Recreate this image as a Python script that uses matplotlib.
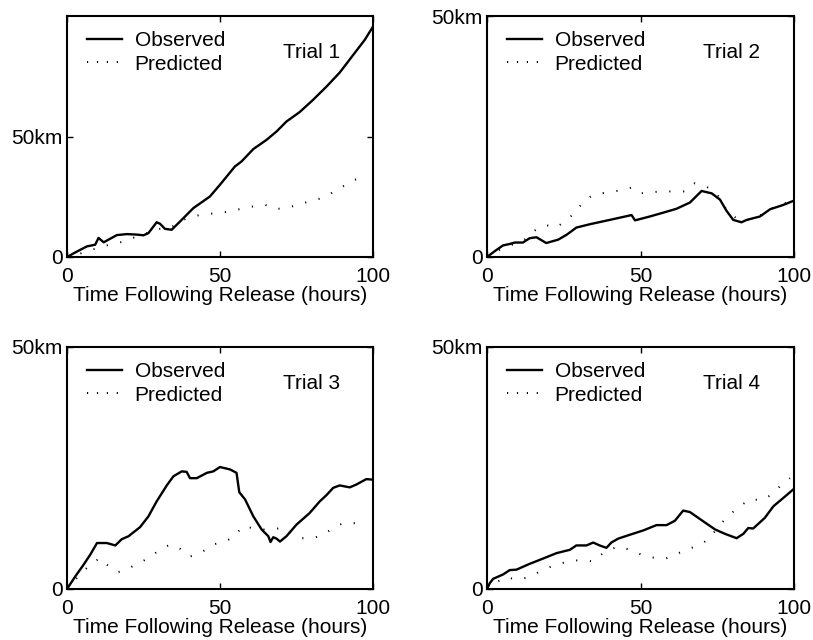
import matplotlib
matplotlib.use("Agg")
import matplotlib.pyplot as plt

plt.rcParams['font.family'] = ['Liberation Sans', 'DejaVu Sans']

# ---------------- data (hours, km) ----------------
t1_obs_t = [0, 3.3, 6.5, 9.2, 10.3, 12, 14, 16.3, 19.6, 22.8, 25, 26.6, 29.3, 30.4, 32, 34.2, 37,
            41.3, 46.7, 50, 54.9, 57, 60.9, 65.2, 68.5, 71.7, 76, 80.4, 84.8, 89.1, 93.5, 97.3, 100]
t1_obs_km = [0, 2.3, 4.4, 5.1, 7.9, 6.1, 7.5, 9.1, 9.5, 9.3, 9.0, 9.9, 14.4, 13.8, 11.7, 11.3, 14.8,
             20.3, 25.1, 30, 37.6, 39.6, 44.8, 48.6, 52.1, 56.2, 60.1, 65.2, 70.7, 76.5, 83.8, 90.1, 95.6]
t1_pred_t = [0, 3.3, 7.6, 10.9, 14.7, 19, 22.3, 26.1, 29.3, 33.7, 37.5, 41.3, 45.1, 49.5, 53.3,
             56.5, 60.9, 64.7, 67.9, 71.7, 75.5, 79.3, 83.2, 86.4, 89.7, 93, 97.3]
t1_pred_km = [0, 1.0, 2.8, 4.1, 5.4, 6.5, 8.3, 9.9, 11.6, 12.0, 15.2, 16.9, 17.8, 18.2, 18.9,
              19.9, 21.0, 21.7, 19.9, 20.3, 21.7, 23.1, 24.4, 26.5, 28.9, 31.6, 33.4]

t2_obs_t = [0, 2.5, 5.2, 7.4, 9, 11.7, 13.9, 16.1, 19.3, 23.2, 25.9, 29.1, 33.5, 40, 47.1, 48.2,
            53, 57.4, 61.7, 66.1, 69.9, 73.2, 75.9, 78.0, 80.2, 82.9, 84.6, 88.9, 92.2, 96.5, 100]
t2_obs_km = [0, 1.2, 2.4, 2.7, 3.0, 3.0, 3.9, 4.1, 2.9, 3.6, 4.6, 6.1, 6.8, 7.7, 8.7, 7.6,
             8.4, 9.2, 10.0, 11.3, 13.7, 13.2, 11.9, 9.6, 7.7, 7.2, 7.7, 8.4, 9.9, 10.8, 11.7]
t2_pred_t = [0, 4.1, 7.4, 10.7, 13.4, 16.1, 19.3, 22.6, 25.9, 29.1, 31.3, 34.6, 38.9, 43.3, 47.1,
             49.8, 53, 56.8, 60.7, 64.5, 67.7, 71.5, 74.8, 78, 81.8, 85.7, 88.9, 92.7, 96.5, 100]
t2_pred_km = [0, 1.5, 2.4, 3.0, 4.1, 5.8, 6.6, 6.1, 7.7, 9.4, 11.5, 12.9, 13.4, 13.8, 14.4,
              13.2, 13.4, 13.6, 13.6, 13.6, 15.3, 14.6, 13.2, 9.8, 7.7, 7.7, 8.6, 10.1, 11.0, 11.9]

t3_obs_t = [0, 2.7, 5.4, 7.6, 9.8, 13, 15.8, 17.9, 20.1, 23.9, 26.6, 29.3, 32.6, 34.8, 37.5, 39.1,
            40.2, 42.4, 45.7, 47.8, 50, 53.3, 55.4, 56.3, 58.2, 60.9, 63.6, 65.8, 66.5, 67.4, 68.5,
            69.6, 71.7, 75, 79.3, 82.6, 84.8, 87, 89.1, 92.4, 94.6, 97.8, 100]
t3_obs_km = [0, 2.6, 5.0, 7.1, 9.5, 9.5, 9.0, 10.3, 10.9, 12.8, 15.0, 18.1, 21.4, 23.3, 24.3, 24.2,
             22.9, 22.9, 24.0, 24.3, 25.2, 24.7, 24.0, 20.0, 18.5, 15.0, 12.3, 10.9, 9.7, 10.7, 10.4,
             9.8, 10.9, 13.3, 15.7, 18.1, 19.4, 20.9, 21.4, 21.0, 21.6, 22.7, 22.6]
t3_pred_t = [0, 2.7, 5.4, 8.2, 10.9, 13.6, 16.8, 20.1, 23.9, 27.2, 30.4, 33.7, 37, 40.2, 44, 47.8,
             51.6, 55, 57.1, 60.9, 64.1, 66.8, 70.1, 73.4, 76.6, 80.4, 83.7, 87, 90.2, 94, 97.8]
t3_pred_km = [0, 1.9, 3.7, 5.4, 6.4, 4.7, 3.5, 4.3, 5.4, 6.7, 8.1, 9.2, 8.3, 6.7, 7.6, 9.2,
              9.8, 10.9, 12.9, 12.6, 12.3, 12.3, 12.6, 11.6, 10.5, 10.5, 11.2, 12.6, 13.6, 13.6, 13.5]

t4_obs_t = [0, 0.9, 2, 5.2, 7.4, 9.6, 13.9, 18.3, 22.6, 27, 29.1, 32.4, 34.6, 36.7, 38.9, 40.5,
            42.7, 46.5, 50.9, 55.2, 58.5, 61.2, 63.9, 66.1, 70.4, 74.3, 77.5, 81.3, 83.5, 85.1,
            86.7, 90.5, 93.3, 96.5, 100]
t4_obs_km = [0, 1.2, 2.1, 3.0, 3.9, 4.0, 5.2, 6.3, 7.4, 8.1, 9.0, 9.0, 9.6, 9.0, 8.5, 9.6,
             10.4, 11.2, 12.1, 13.2, 13.2, 14.1, 16.2, 15.9, 14.0, 12.3, 11.4, 10.5, 11.4, 12.6,
             12.5, 14.7, 17.1, 18.8, 20.7]
t4_pred_t = [0, 2.5, 6.3, 9.6, 13.4, 16.6, 20.4, 23.7, 27.5, 31.3, 34.6, 37.8, 40, 42.7, 46.5,
             50.3, 54.1, 57.9, 61.2, 65, 68.8, 72.1, 75.9, 79.1, 82.4, 85.7, 89.5, 92.7, 95.4, 98.7]
t4_pred_km = [0, 1.2, 2.5, 1.9, 2.4, 3.4, 4.5, 5.2, 5.9, 5.9, 5.7, 7.4, 8.1, 8.8, 8.1,
              7.1, 6.5, 6.2, 7.1, 8.1, 9.0, 10.2, 13.3, 15.4, 17.1, 18.6, 18.3, 19.5, 21.2, 22.9]

trial_names = ["Trial 1", "Trial 2", "Trial 3", "Trial 4"]
y_max = [100, 50, 50, 50]
x_ticks = [0, 50, 100]
x_tick_labels = ["0", "50", "100"]
y_ticks = [0, 50]
y_tick_labels = ["0", "50km"]
x_label = "Time Following Release (hours)"
legend_labels = ["Observed", "Predicted"]

series = [
    (t1_obs_t, t1_obs_km, t1_pred_t, t1_pred_km),
    (t2_obs_t, t2_obs_km, t2_pred_t, t2_pred_km),
    (t3_obs_t, t3_obs_km, t3_pred_t, t3_pred_km),
    (t4_obs_t, t4_obs_km, t4_pred_t, t4_pred_km),
]

# ---------------- figure ----------------
W, H = 813, 640
fig = plt.figure(figsize=(W / 100, H / 100), dpi=100)

# axes boxes in pixels: (left, top, right, bottom)
boxes = [(67, 16, 373, 257), (487, 16, 794, 257),
         (67, 347, 373, 589), (487, 347, 794, 589)]

FS = 15
for i, (box, (ot, ok, pt, pk)) in enumerate(zip(boxes, series)):
    l, t, r, b = box
    ax = fig.add_axes([l / W, 1 - b / H, (r - l) / W, (b - t) / H])
    ax.plot(ot, ok, color='black', lw=1.7, solid_joinstyle='round', label=legend_labels[0])
    ax.plot(pt, pk, color='black', lw=1.4, linestyle=(0, (0.6, 6.5)),
            dash_capstyle='butt', label=legend_labels[1])
    ax.set_xlim(0, 100)
    ax.set_ylim(0, y_max[i])
    ax.set_xticks(x_ticks)
    ax.set_xticklabels(x_tick_labels)
    ax.set_yticks(y_ticks)
    ax.set_yticklabels(y_tick_labels)
    ax.tick_params(direction='in', top=True, right=True, length=4, width=1,
                   labelsize=FS, pad=3)
    ax.tick_params(axis='x', pad=7)
    for s in ax.spines.values():
        s.set_linewidth(1.5)
    ax.set_xlabel(x_label, fontsize=FS, labelpad=0)
    leg = ax.legend(loc='upper left', bbox_to_anchor=(0.064, 0.936), frameon=False,
                    fontsize=FS, handlelength=1.7, handletextpad=0.6, labelspacing=0.2,
                    borderpad=0, borderaxespad=0)
    leg.get_lines()[1].set_linestyle((0, (0.6, 4.5)))
    ax.text(0.705, 0.848, trial_names[i], transform=ax.transAxes, fontsize=FS,
            ha='left', va='center')

fig.savefig("out.png", dpi=100)
